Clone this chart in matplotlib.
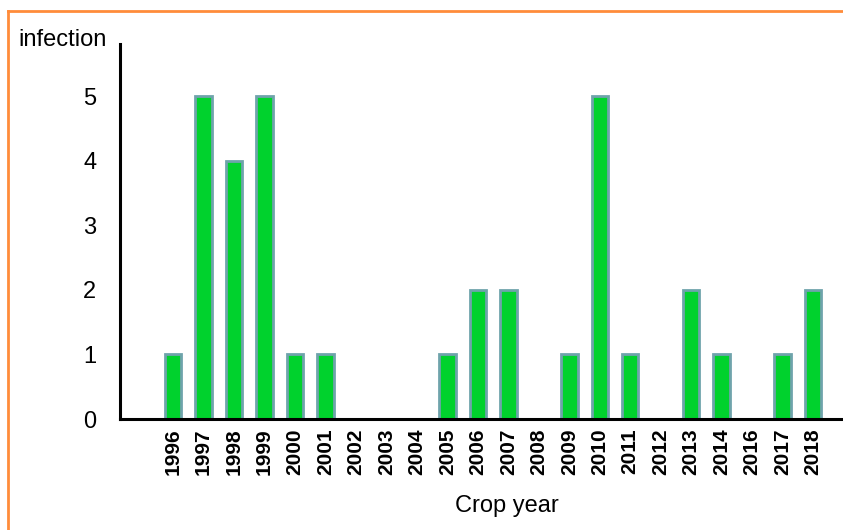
import matplotlib.pyplot as plt
from matplotlib.lines import Line2D

plt.rcParams['font.family'] = ['Liberation Sans', 'DejaVu Sans']

years = ['1996', '1997', '1998', '1999', '2000', '2001', '2002', '2003', '2004',
         '2005', '2006', '2007', '2008', '2009', '2010', '2011', '2012', '2013',
         '2014', '2016', '2017', '2018']
infection = [1, 5, 4, 5, 1, 1, 0, 0, 0, 1, 2, 2, 0, 1, 5, 1, 0, 2, 1, 0, 1, 2]
yticks = [0, 1, 2, 3, 4, 5]

fig = plt.figure(figsize=(8.43, 5.30), dpi=100)
ax = fig.add_axes([120 / 843, 1 - 419 / 530, 1 - 120 / 843, (419 - 44) / 530])

x = list(range(len(years)))
ax.bar(x, infection, width=0.54, color='#00d22d', edgecolor='#6fa3ab', linewidth=2, zorder=2)

ax.set_xlim(-1.74, 21.98)
ax.set_ylim(0, 5.805)
ax.set_xticks(x)
ax.set_xticklabels(years, rotation=90, fontsize=15, fontweight='bold')
ax.set_yticks(yticks)
ax.set_yticklabels([str(v) for v in yticks], fontsize=17)
ax.tick_params(axis='x', length=0, pad=7)
ax.tick_params(axis='y', length=0, pad=17)

for s in ['top', 'right']:
    ax.spines[s].set_visible(False)
for s in ['left', 'bottom']:
    ax.spines[s].set_linewidth(2.2)
    ax.spines[s].set_color('black')

fig.text(18 / 843, 1 - 40 / 530, 'infection', fontsize=17, ha='left', va='center')
fig.text(507 / 843, 1 - 506 / 530, 'Crop year', fontsize=17, ha='center', va='center')

# orange frame around the chart
fig.add_artist(Line2D([7.5 / 843, 7.5 / 843], [0, 1 - 11 / 530], transform=fig.transFigure,
                      color='#ff8c3a', linewidth=2))
fig.add_artist(Line2D([7.5 / 843, 1], [1 - 11 / 530, 1 - 11 / 530], transform=fig.transFigure,
                      color='#ff8c3a', linewidth=2))

fig.savefig('out.png', dpi=100)
